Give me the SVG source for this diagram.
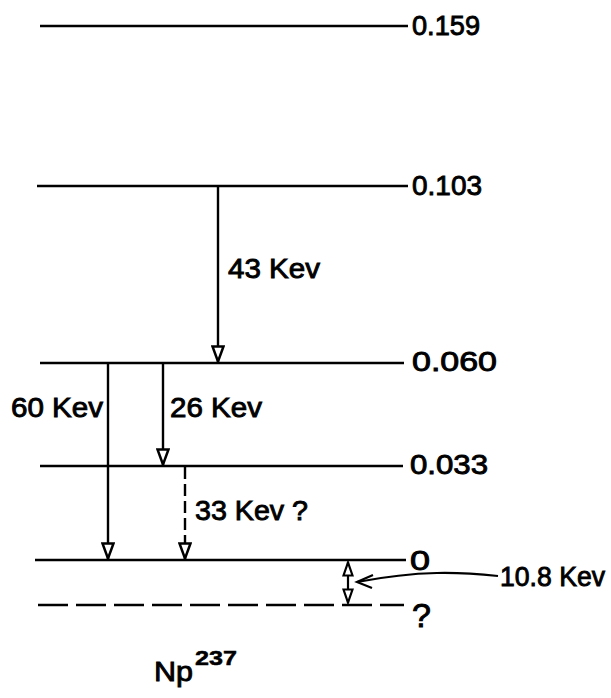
<svg xmlns="http://www.w3.org/2000/svg" width="611" height="698" viewBox="0 0 611 698">
<defs>
<marker id="tri" viewBox="0 0 18 14" refX="17" refY="7" markerWidth="18" markerHeight="14" markerUnits="userSpaceOnUse" orient="auto-start-reverse">
<path d="M1.5,1.5 L1.5,12.5 L16.5,7 Z" fill="#fff" stroke="#000" stroke-width="2.5"/>
</marker>
<marker id="tri2" viewBox="0 0 16 12" refX="15" refY="6" markerWidth="16" markerHeight="12" markerUnits="userSpaceOnUse" orient="auto-start-reverse">
<path d="M1.5,1.5 L1.5,10.5 L14.5,6 Z" fill="#fff" stroke="#000" stroke-width="2.2"/>
</marker>
</defs>
<style>
.lvl{stroke:#000;stroke-width:2.6;fill:none}
.dash{stroke:#000;stroke-width:2.6;fill:none;stroke-dasharray:30 8}
.arr{stroke:#000;stroke-width:2.4;fill:none;marker-end:url(#tri)}
.t{font-family:"Liberation Sans",Arial,sans-serif;font-size:28px;fill:#000;stroke:#000;stroke-width:0.9}
.sup{font-family:"Liberation Sans",Arial,sans-serif;font-size:21px;font-weight:bold;fill:#000;stroke:#000;stroke-width:0.5}
</style>
<rect width="611" height="698" fill="#fff"/>
<g id="level-0159"><line class="lvl" x1="40" y1="26" x2="408" y2="26"/><text class="t" x="412" y="35" textLength="68" lengthAdjust="spacingAndGlyphs">0.159</text></g>
<g id="level-0103"><line class="lvl" x1="37" y1="186" x2="408" y2="186"/><text class="t" x="412" y="195" textLength="70" lengthAdjust="spacingAndGlyphs">0.103</text></g>
<g id="level-0060"><line class="lvl" x1="40" y1="363" x2="404" y2="363"/><text class="t" x="412" y="371" textLength="85" lengthAdjust="spacingAndGlyphs">0.060</text></g>
<g id="level-0033"><line class="lvl" x1="40" y1="466" x2="403" y2="466"/><text class="t" x="410" y="474" textLength="78" lengthAdjust="spacingAndGlyphs">0.033</text></g>
<g id="level-0"><line class="lvl" x1="35" y1="560" x2="406" y2="560"/><text class="t" x="410" y="570" textLength="20" lengthAdjust="spacingAndGlyphs">0</text></g>
<g id="level-q"><line class="dash" x1="38" y1="605" x2="404" y2="605"/><text class="t" x="412" y="627" style="font-size:34px">?</text></g>
<g id="label-108"><text class="t" x="500" y="586" textLength="105" lengthAdjust="spacingAndGlyphs">10.8 Kev</text></g>
<g id="title"><text class="t" x="154" y="681" textLength="39" lengthAdjust="spacingAndGlyphs">Np</text><text class="sup" x="195" y="665" textLength="42" lengthAdjust="spacingAndGlyphs">237</text></g>
<g id="connectors">
<line class="arr" x1="218" y1="187" x2="218" y2="362"/>
<text class="t" x="228" y="278" textLength="92" lengthAdjust="spacingAndGlyphs">43 Kev</text>
<line class="arr" x1="108" y1="364" x2="108" y2="559"/>
<text class="t" x="11" y="417" textLength="92" lengthAdjust="spacingAndGlyphs">60 Kev</text>
<line class="arr" x1="163" y1="364" x2="163" y2="465"/>
<text class="t" x="170" y="417" textLength="92" lengthAdjust="spacingAndGlyphs">26 Kev</text>
<line x1="185" y1="467" x2="185" y2="545" stroke="#000" stroke-width="2.4" stroke-dasharray="12 5"/>
<line class="arr" x1="185" y1="544" x2="185" y2="559"/>
<text class="t" x="195" y="520" textLength="113" lengthAdjust="spacingAndGlyphs">33 Kev ?</text>
<line x1="348" y1="562" x2="348" y2="603" stroke="#000" stroke-width="2.2" marker-start="url(#tri2)" marker-end="url(#tri2)"/>
<path d="M498,576 C460,572 420,570 357,582" stroke="#000" stroke-width="2.2" fill="none"/>
<path d="M373,575 L357,582 L372,588" stroke="#000" stroke-width="2.2" fill="none"/>
</g>
</svg>
